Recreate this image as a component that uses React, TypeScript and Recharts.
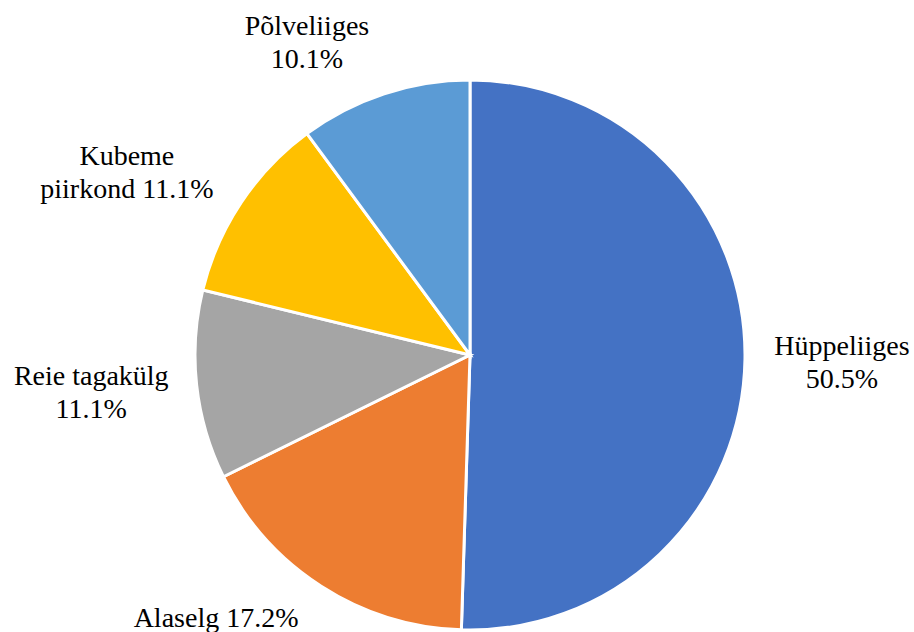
// Vigastuste paiknemine – pie chart, labels in an overlay SVG layer
import React from "react";
import { PieChart, Pie, Cell } from "recharts";

const sliceValues = [50.5, 17.2, 11.1, 11.1, 10.1];
const sliceNames = ["Hüppeliiges", "Alaselg", "Reie tagakülg", "Kubeme\npiirkond", "Põlveliiges"];
const percentOnNewLine = [true, false, true, false, true];
const sliceColors = ["#4472C4", "#ED7D31", "#A5A5A5", "#FFC000", "#5B9BD5"];
// label placement nudges relative to the radial anchor (Excel best-fit look)
const labelNudges = [
  [-3, 1.5],
  [-51, -52],
  [-6, -4],
  [-31, 25],
  [-46, 44],
];

const chartData = sliceNames.map((n, i) => ({ name: n, value: sliceValues[i] }));

const W = 914;
const H = 632;
const CX = 470;
const CY = 355;
const R = 275;
const START = 90;
const END = -270;
const RAD = Math.PI / 180;
const LINE_H = 33;

function Labels() {
  const total = sliceValues.reduce((a, b) => a + b, 0);
  let cum = 0;
  const items = sliceValues.map((v, index) => {
    const mid = START + ((END - START) * (cum + v / 2)) / total;
    cum += v;
    const r = R + 100;
    const x0 = CX + r * Math.cos(-mid * RAD) + labelNudges[index][0];
    const y0 = CY + r * Math.sin(-mid * RAD) + labelNudges[index][1];
    const pct = v.toFixed(1) + "%";
    const nameLines = sliceNames[index].split("\n");
    let lines: string[];
    if (percentOnNewLine[index]) {
      lines = [...nameLines, pct];
    } else {
      lines = [...nameLines];
      lines[lines.length - 1] = lines[lines.length - 1] + " " + pct;
    }
    const first = y0 + 9 - ((lines.length - 1) * LINE_H) / 2;
    return lines.map((l, i) => (
      <text
        key={index + "-" + i}
        x={x0}
        y={first + i * LINE_H}
        textAnchor="middle"
        fill="#000"
        fontFamily="Liberation Serif"
        fontSize={28}
      >
        {l}
      </text>
    ));
  });
  return (
    <svg
      width={W}
      height={H}
      style={{ position: "absolute", left: 0, top: 0, pointerEvents: "none" }}
    >
      {items}
    </svg>
  );
}

export default function App() {
  return (
    <div style={{ position: "absolute", left: 0, top: 0, width: W, height: H, background: "#fff" }}>
      <PieChart width={W} height={H} margin={{ top: 0, right: 0, bottom: 0, left: 0 }}>
        <Pie
          data={chartData}
          dataKey="value"
          nameKey="name"
          cx={CX}
          cy={CY}
          outerRadius={R}
          startAngle={START}
          endAngle={END}
          stroke="#fff"
          strokeWidth={3}
          label={false}
          labelLine={false}
          isAnimationActive={false}
        >
          {chartData.map((d, i) => (
            <Cell key={i} fill={sliceColors[i]} />
          ))}
        </Pie>
      </PieChart>
      <Labels />
    </div>
  );
}
